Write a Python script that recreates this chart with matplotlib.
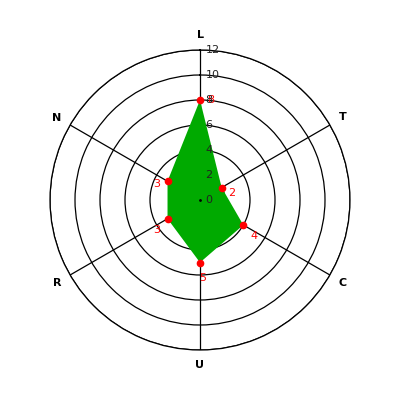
import numpy as np
import matplotlib
matplotlib.use('Agg')
import matplotlib.pyplot as plt

categories = ['L', 'T', 'C', 'U', 'R', 'N']
values = [8, 2, 4, 5, 3, 3]
rticks = [0, 2, 4, 6, 8, 10, 12]

angles = np.linspace(0, 2 * np.pi, len(categories), endpoint=False)

fig = plt.figure(figsize=(4, 4), dpi=100)
ax = fig.add_axes([0.125, 0.125, 0.75, 0.75], projection='polar')
ax.set_theta_zero_location('N')
ax.set_theta_direction(-1)
ax.set_ylim(0, 12)
ax.set_axisbelow(True)

ax.set_rgrids(rticks[1:], labels=[''] * 6)
ax.set_thetagrids(np.degrees(angles), labels=[''] * 6)
ax.grid(True, color='black', linewidth=0.9, linestyle='-')
ax.spines['polar'].set_color('black')
ax.spines['polar'].set_linewidth(0.9)

# polygon
a = np.append(angles, angles[0])
v = np.append(values, values[0])
ax.fill(a, v, color='#00aa00', zorder=3, linewidth=0)
ax.plot(angles, values, linestyle='none', marker='o', color='#ff0000',
        markersize=4.5, zorder=4)

offsets = [(5, 0), (5, -4), (5, -8), (2, -11), (-5, -8), (-5, -2)]
aligns = ['left', 'left', 'left', 'center', 'right', 'right']
for ang, val, off, ha in zip(angles, values, offsets, aligns):
    ax.annotate(str(val), (ang, val), xytext=off, textcoords='offset points',
                ha=ha, va='center', fontsize=8, color='#ff0000', zorder=5)

# radial axis labels along L spoke, drawn over the fill
for t in rticks:
    ax.annotate(str(t), (0, t), xytext=(4, 0), textcoords='offset points',
                ha='left', va='center', fontsize=8, color='#222222', zorder=6)
ax.plot([0], [0], marker='.', color='black', markersize=2, zorder=6)

# category labels
for ang, name in zip(angles, categories):
    ax.text(ang, 13.2, name, ha='center', va='center', fontsize=8,
            fontweight='bold', clip_on=False)

fig.savefig('out.png', dpi=100)
